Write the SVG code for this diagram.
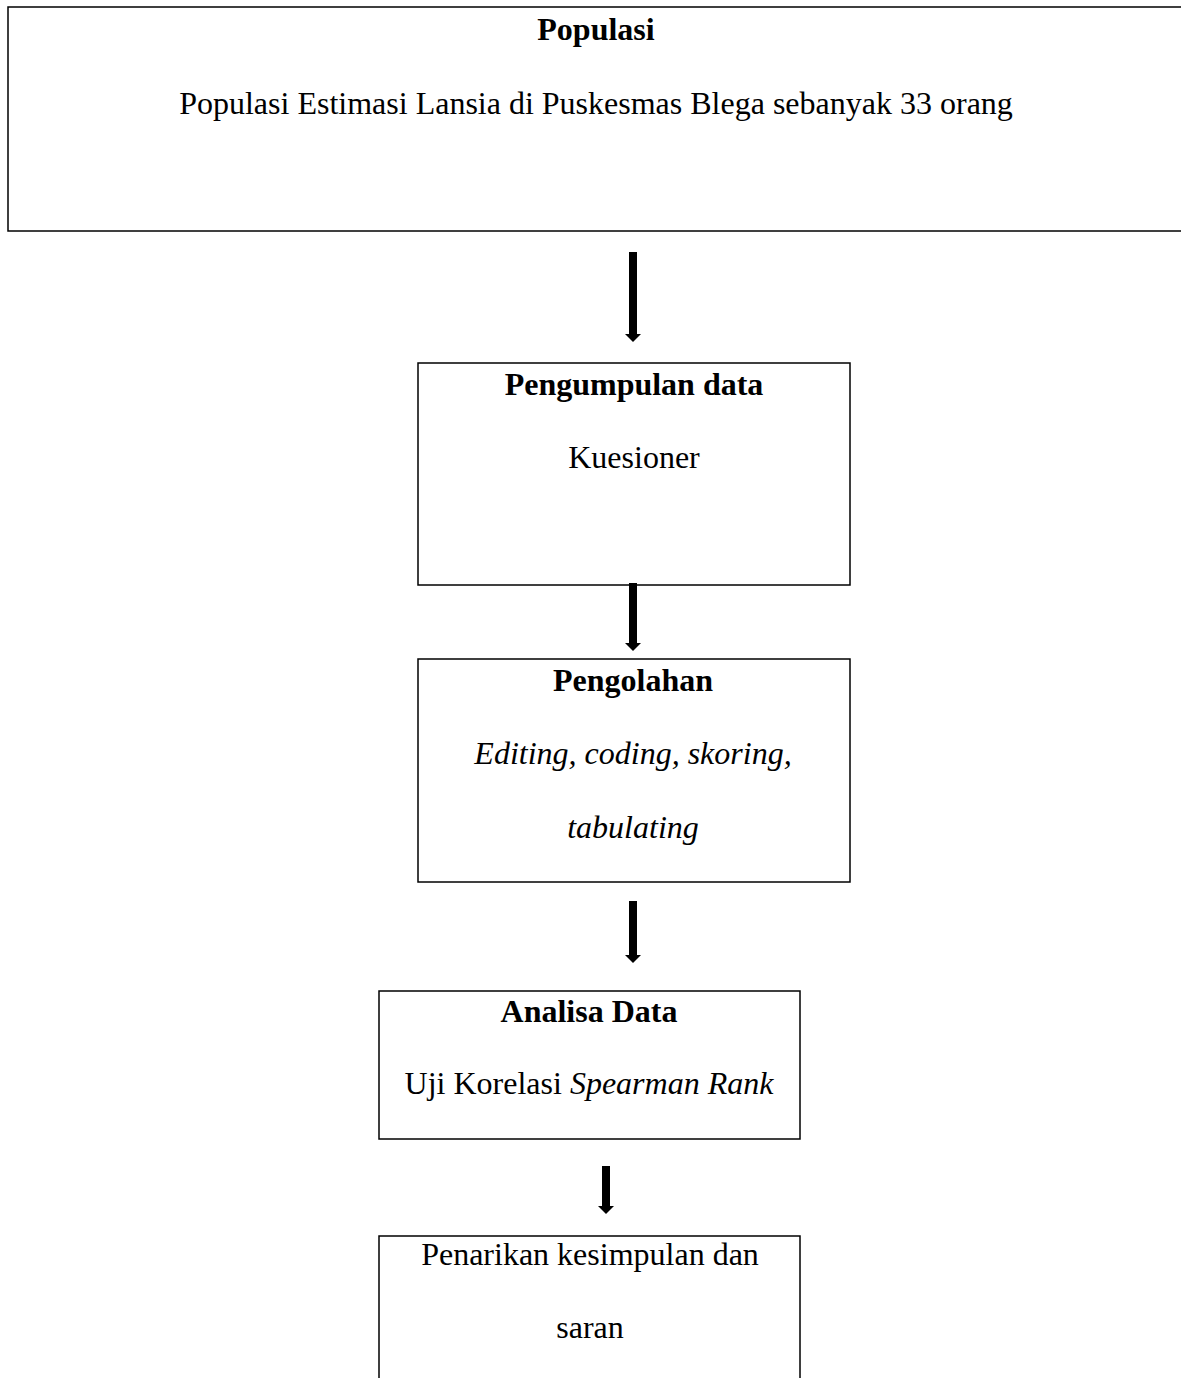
<svg xmlns="http://www.w3.org/2000/svg" width="1181" height="1378" viewBox="0 0 1181 1378">
<style>
.box{fill:#fff;stroke:#000;stroke-width:1.5}
.t{font-family:"Liberation Serif","Times New Roman",serif;font-size:32px;fill:#000;text-anchor:middle}
.b{font-weight:bold}
.i{font-style:italic}
.arr{fill:#000}
</style>
<rect width="1181" height="1378" fill="#fff"/>
<g id="populasi">
<rect class="box" x="8" y="7" width="1190" height="224"/>
<text class="t b" x="596" y="40">Populasi</text>
<text class="t" x="596" y="114">Populasi Estimasi Lansia di Puskesmas Blega sebanyak 33 orang</text>
</g>
<g id="pengumpulan">
<rect class="box" x="418" y="363" width="432" height="222"/>
<text class="t b" x="634" y="395">Pengumpulan data</text>
<text class="t" x="634" y="468">Kuesioner</text>
</g>
<g id="pengolahan">
<rect class="box" x="418" y="659" width="432" height="223"/>
<text class="t b" x="633" y="691">Pengolahan</text>
<text class="t i" x="633" y="764">Editing, coding, skoring,</text>
<text class="t i" x="633" y="838">tabulating</text>
</g>
<g id="analisa">
<rect class="box" x="379" y="991" width="421" height="148"/>
<text class="t b" x="589" y="1022">Analisa Data</text>
<text class="t" x="589" y="1094">Uji Korelasi <tspan class="i">Spearman Rank</tspan></text>
</g>
<g id="penarikan">
<rect class="box" x="379" y="1236" width="421" height="170"/>
<text class="t" x="590" y="1265">Penarikan kesimpulan dan</text>
<text class="t" x="590" y="1338">saran</text>
</g>
<g id="connectors">
<path class="arr" d="M629,252 H637 V334 H641 L633,342 L625,334 H629 Z"/>
<path class="arr" d="M629,583 H637 V643 H641 L633,651 L625,643 H629 Z"/>
<path class="arr" d="M629,901 H637 V955 H641 L633,963 L625,955 H629 Z"/>
<path class="arr" d="M602,1166 H610 V1206 H614 L606,1214 L598,1206 H602 Z"/>
</g>
</svg>
